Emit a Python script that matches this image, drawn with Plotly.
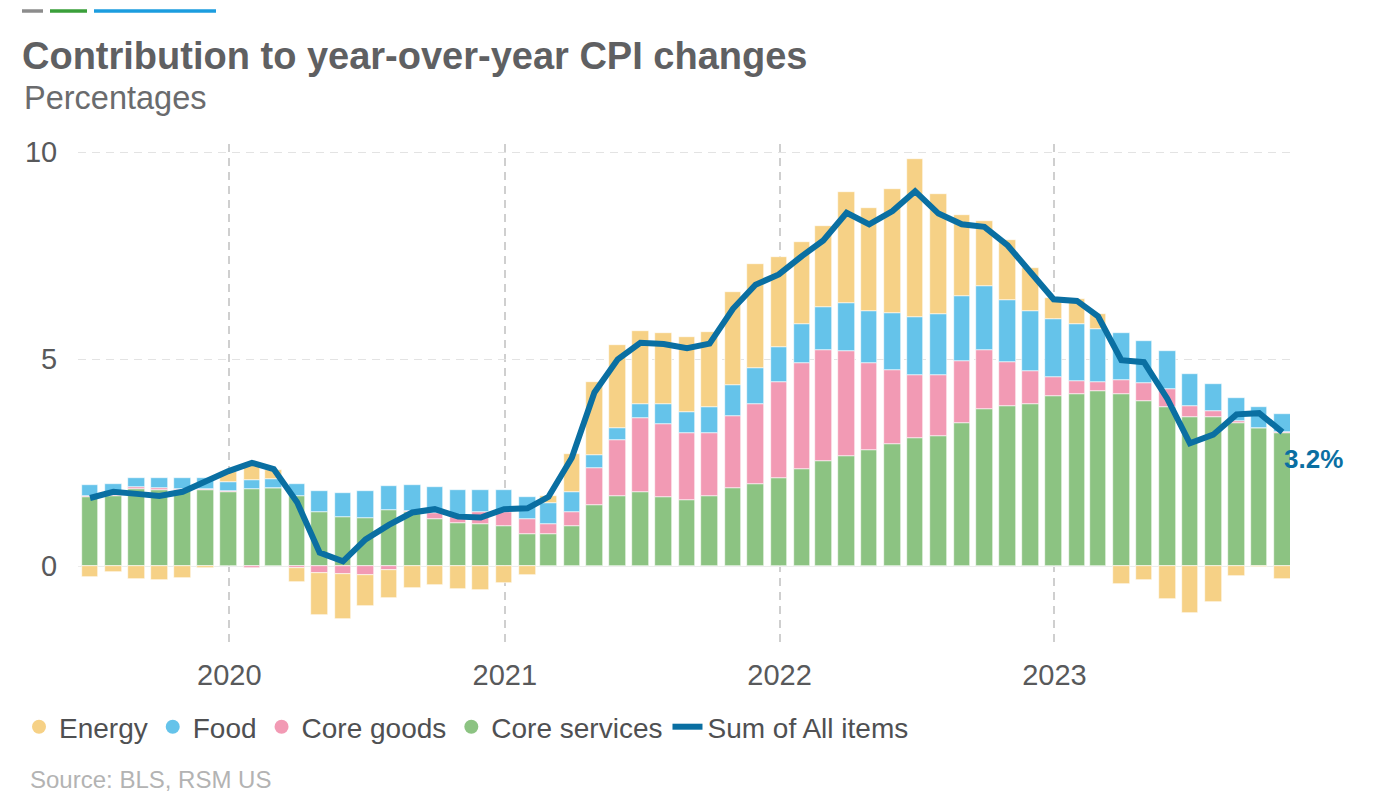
import pandas as pd
import plotly.graph_objects as go

# Monthly observations, June 2019 - October 2023 (plotted at month end)
months = pd.date_range("2019-07-01", "2023-11-01", freq="MS") - pd.Timedelta(days=1)

core_services = [1.67, 1.70, 1.86, 1.84, 1.84, 1.84, 1.80, 1.86, 1.88, 1.71, 1.31, 1.19,
                 1.17, 1.37, 1.31, 1.15, 1.05, 1.03, 0.97, 0.79, 0.77, 0.97, 1.47, 1.71,
                 1.80, 1.67, 1.61, 1.70, 1.88, 1.98, 2.14, 2.36, 2.54, 2.66, 2.82, 2.95,
                 3.10, 3.15, 3.46, 3.81, 3.87, 3.93, 4.11, 4.16, 4.23, 4.16, 3.99, 3.85,
                 3.60, 3.60, 3.46, 3.35, 3.22]
core_goods = [0.03, 0.03, 0.06, 0.06, 0.02, 0.02, 0.01, -0.03, 0.00, -0.03, -0.16, -0.18,
              -0.20, -0.09, 0.02, 0.14, 0.15, 0.28, 0.34, 0.35, 0.26, 0.35, 0.90, 1.33,
              1.79, 1.76, 1.60, 1.51, 1.76, 1.95, 2.31, 2.55, 2.68, 2.54, 2.09, 1.80,
              1.51, 1.48, 1.51, 1.41, 1.07, 0.78, 0.46, 0.32, 0.23, 0.34, 0.44, 0.43,
              0.28, 0.15, 0.05, 0.00, 0.02]
food = [0.26, 0.27, 0.22, 0.23, 0.28, 0.27, 0.23, 0.23, 0.24, 0.27, 0.51, 0.57,
        0.64, 0.57, 0.63, 0.63, 0.64, 0.53, 0.54, 0.53, 0.51, 0.48, 0.32, 0.29,
        0.33, 0.48, 0.51, 0.64, 0.73, 0.85, 0.84, 0.94, 1.05, 1.17, 1.26, 1.36,
        1.40, 1.46, 1.55, 1.54, 1.50, 1.46, 1.41, 1.37, 1.27, 1.14, 1.02, 0.91,
        0.76, 0.65, 0.56, 0.50, 0.45]
energy = [-0.25, -0.14, -0.31, -0.34, -0.29, -0.03, 0.24, 0.40, 0.20, -0.35, -1.01, -1.10,
          -0.76, -0.68, -0.52, -0.44, -0.54, -0.56, -0.40, -0.22, 0.15, 0.92, 1.75, 2.02,
          1.76, 1.73, 1.82, 1.82, 2.25, 2.51, 2.17, 1.99, 1.94, 2.66, 2.49, 3.00,
          3.83, 2.90, 1.96, 1.59, 1.43, 1.04, 0.49, 0.61, 0.37, -0.42, -0.34, -0.78,
          -1.13, -0.85, -0.23, -0.02, -0.31]
all_items = [1.65, 1.8, 1.75, 1.7, 1.8, 2.05, 2.3, 2.5, 2.35, 1.55, 0.33, 0.12,
             0.65, 1.0, 1.3, 1.38, 1.2, 1.18, 1.38, 1.4, 1.68, 2.62, 4.2, 5.0,
             5.4, 5.37, 5.27, 5.38, 6.22, 6.8, 7.05, 7.5, 7.87, 8.54, 8.26, 8.58,
             9.06, 8.52, 8.26, 8.2, 7.75, 7.11, 6.45, 6.41, 6.04, 4.98, 4.93, 4.05,
             2.97, 3.18, 3.67, 3.7, 3.24]

series_names = ["Energy", "Food", "Core goods", "Core services"]
colors = {"Energy": "#f6d186", "Food": "#65c3ea", "Core goods": "#f29ab4",
          "Core services": "#8cc382"}
line_color = "#0a6fa2"
FONT = "Liberation Sans, Arial, sans-serif"
BAR_WIDTH_MS = 22 * 86400000

fig = go.Figure()
# Stack order from the zero line outward: core services, core goods, food, energy
for name, vals in [("Core services", core_services), ("Core goods", core_goods),
                   ("Food", food), ("Energy", energy)]:
    fig.add_trace(go.Bar(x=months, y=vals, name=name, showlegend=False,
                         width=BAR_WIDTH_MS,
                         marker=dict(color=colors[name], line=dict(color="white", width=0.6))))

# Legend entries with circular markers
for name in series_names:
    fig.add_trace(go.Scatter(x=[None], y=[None], mode="markers", name=name,
                             marker=dict(symbol="circle", size=14, color=colors[name])))

fig.add_trace(go.Scatter(x=months, y=all_items, mode="lines", name="Sum of All items",
                         line=dict(color=line_color, width=6)))

fig.add_annotation(x=months[-1], y=all_items[-1], xref="x", yref="y",
                   text="<b>3.2%</b>", showarrow=False, xanchor="left", yanchor="middle",
                   xshift=0, yshift=-27, font=dict(family=FONT, size=26, color=line_color))

W, H = 1373, 803
L, R, T, B = 78, 83, 144, 158
pw, ph = W - L - R, H - T - B

def px_x(p):
    return (p - L) / pw

def px_y(p):
    return (H - B - p) / ph

# decorative bars at top-left
for x0, x1, c in [(22, 43, "#8c8c8c"), (50, 87, "#3a9f3a"), (94, 216, "#1c9ddf")]:
    fig.add_shape(type="line", xref="paper", yref="paper", x0=px_x(x0), x1=px_x(x1),
                  y0=px_y(11), y1=px_y(11), line=dict(color=c, width=3.5))

fig.add_annotation(xref="paper", yref="paper", x=px_x(22), y=px_y(98), xanchor="left",
                   yanchor="middle", showarrow=False, text="Percentages",
                   font=dict(family=FONT, size=32.5, color="#6a6b6d"))
fig.add_annotation(xref="paper", yref="paper", x=px_x(28), y=px_y(779), xanchor="left",
                   yanchor="middle", showarrow=False, text="Source: BLS, RSM US",
                   font=dict(family=FONT, size=24, color="#b3b3b3"))

fig.update_layout(
    width=W, height=H,
    margin=dict(l=L, r=R, t=T, b=B),
    plot_bgcolor="white", paper_bgcolor="white",
    barmode="relative", bargap=0,
    title=dict(text="<b>Contribution to year-over-year CPI changes</b>",
               x=22 / W, xanchor="left", xref="container",
               y=1 - 56 / H, yanchor="middle", yref="container",
               font=dict(family=FONT, size=38, color="#5f6062")),
    legend=dict(orientation="h", x=px_x(19), xanchor="left", y=px_y(727), yanchor="middle",
                font=dict(family=FONT, size=28, color="#4f5052"), traceorder="normal",
                itemwidth=30, bgcolor="rgba(0,0,0,0)"),
    font=dict(family=FONT),
)
fig.update_xaxes(type="date", range=["2019-06-14", "2023-11-10"],
                 tick0="2020-01-01", dtick="M12", tickformat="%Y",
                 showgrid=True, gridcolor="#cfcfcf", gridwidth=1.5, griddash="8px,6px",
                 ticks="outside", ticklen=4, tickcolor="rgba(0,0,0,0)",
                 tickfont=dict(family=FONT, size=29, color="#58595b"),
                 showline=False, zeroline=False)
fig.update_yaxes(range=[-1.9, 10.2], tickvals=[0, 5, 10],
                 showgrid=True, gridcolor="#e3e3e3", gridwidth=1, griddash="8px,6px",
                 zeroline=True, zerolinecolor="#ececec", zerolinewidth=1,
                 ticks="outside", ticklen=14, tickcolor="rgba(0,0,0,0)",
                 tickfont=dict(family=FONT, size=29, color="#58595b"),
                 showline=False)

fig.write_html("out.html", config={"displayModeBar": False},
               post_script="document.body.style.margin='0';document.body.style.overflow='hidden';")
